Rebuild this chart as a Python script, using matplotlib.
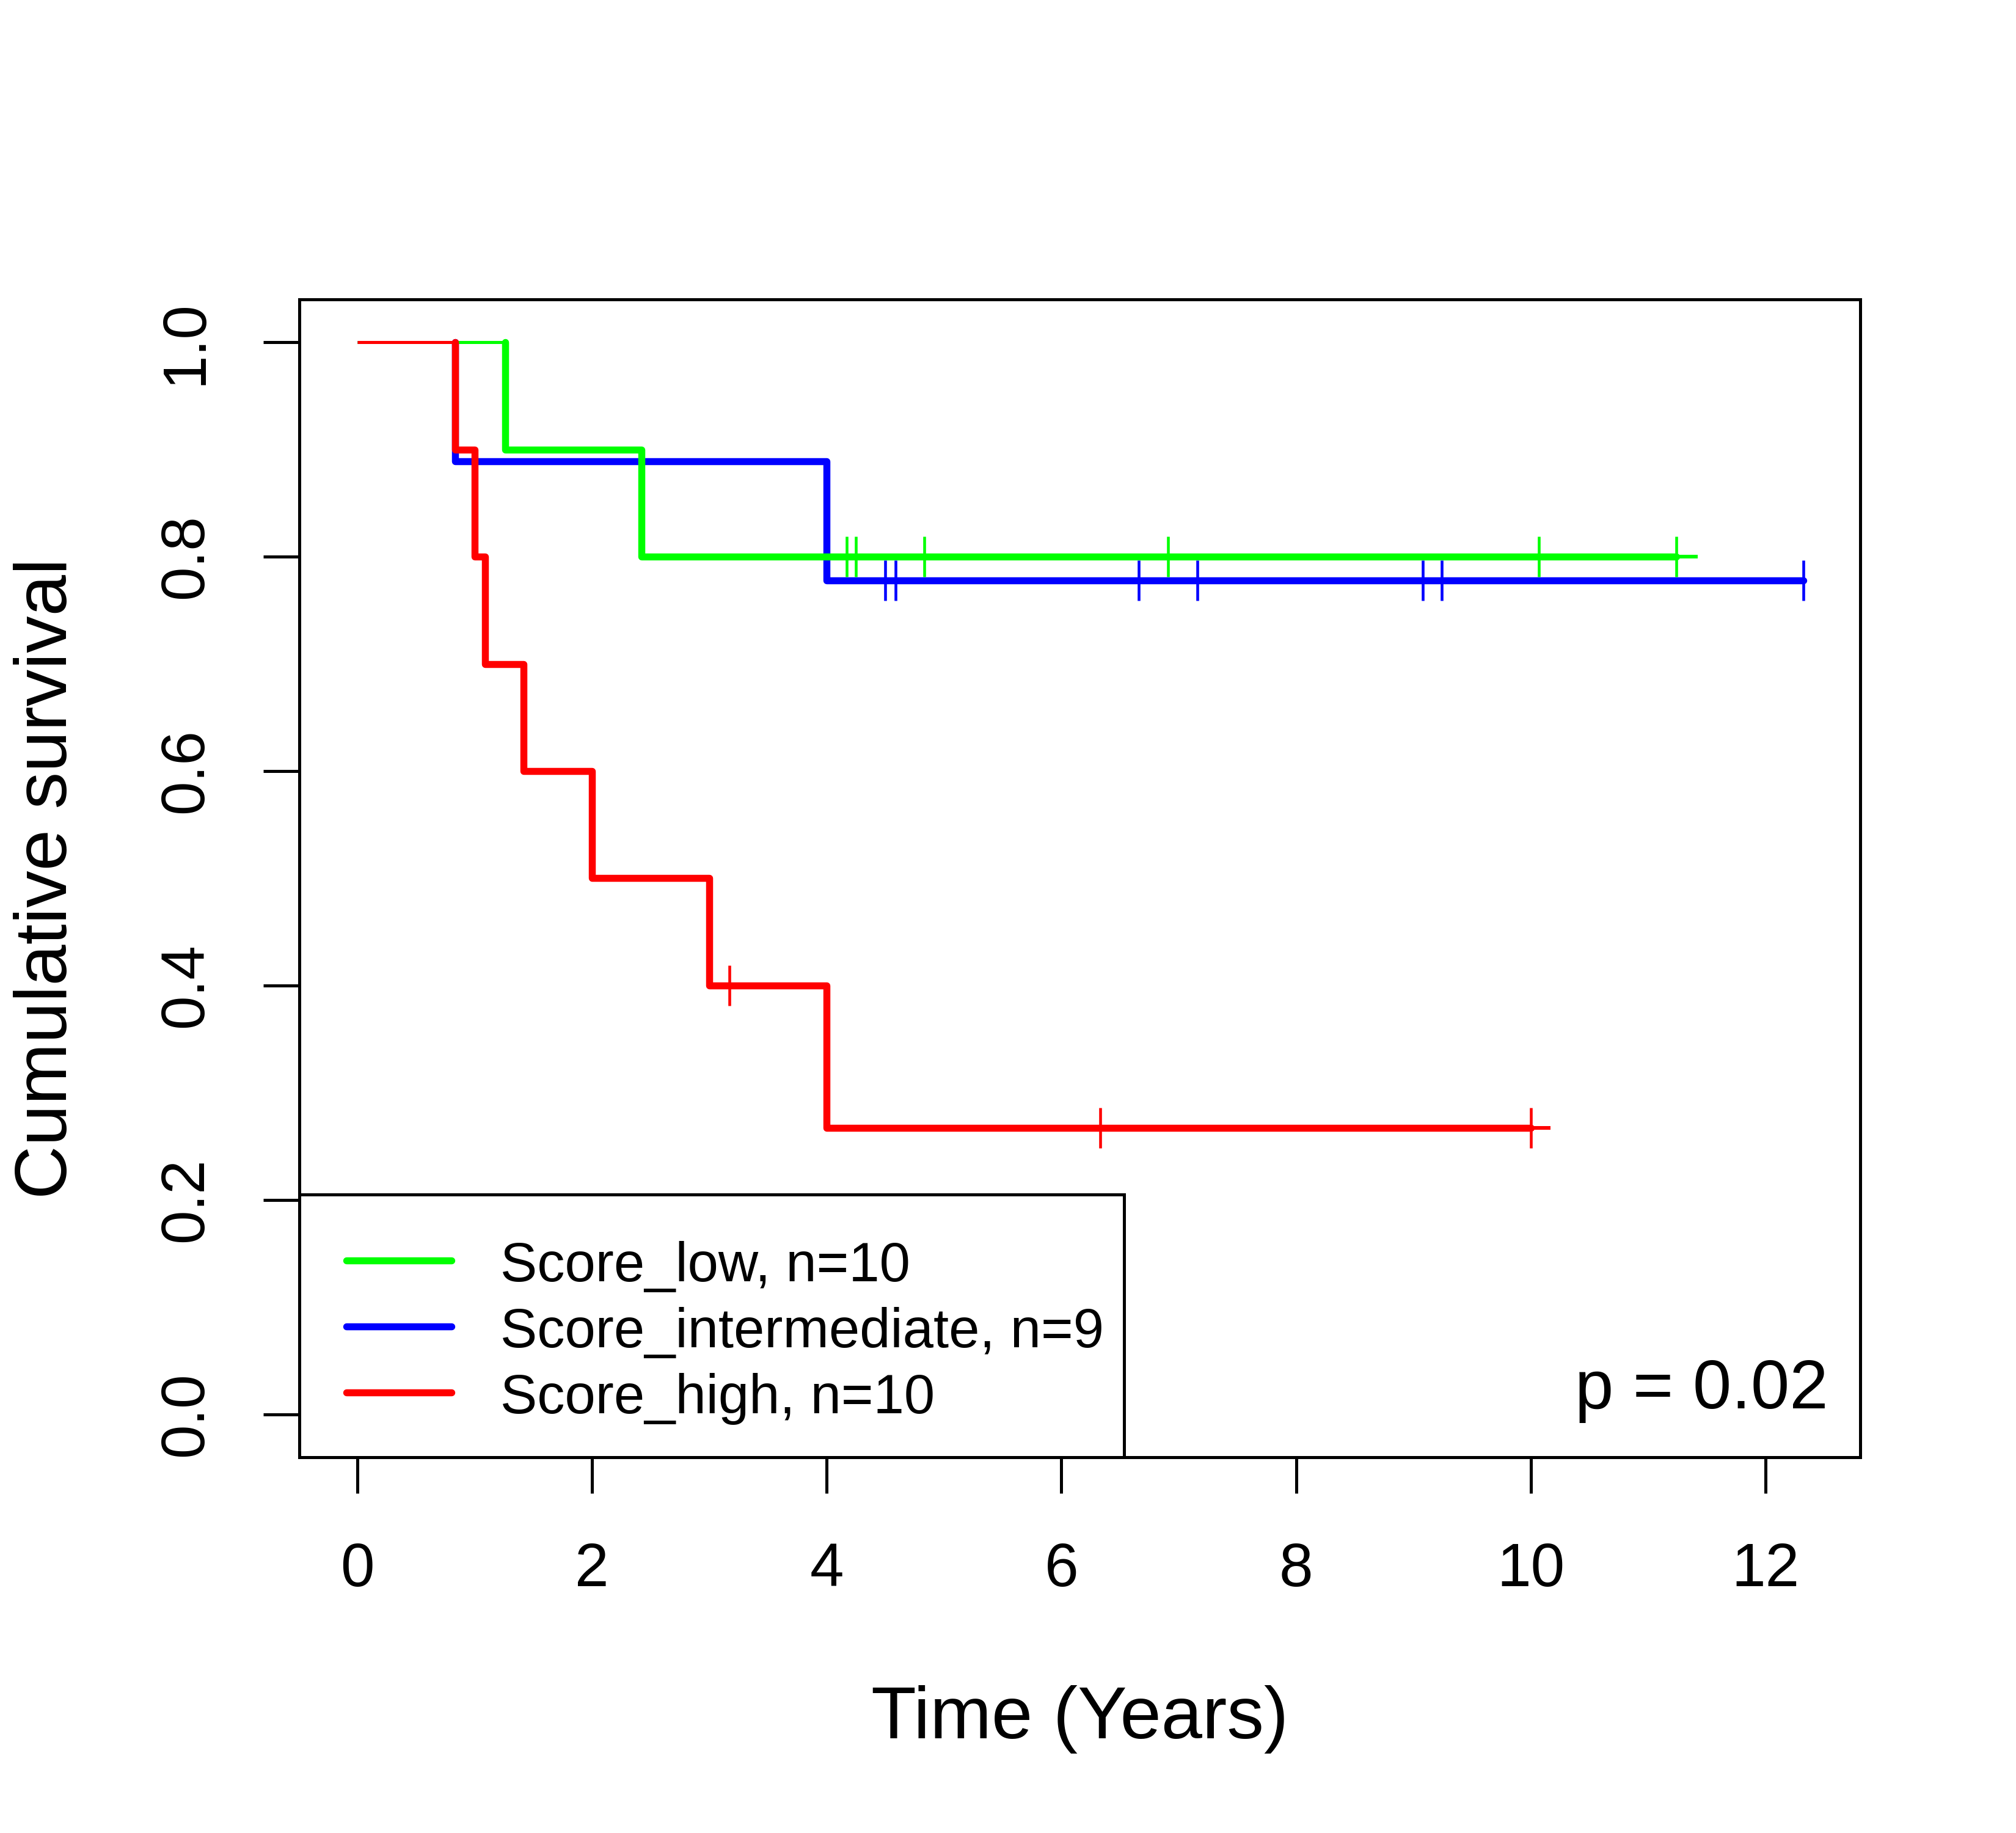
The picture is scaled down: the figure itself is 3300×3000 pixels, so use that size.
import matplotlib
matplotlib.use('Agg')
import matplotlib.pyplot as plt
import numpy as np
from matplotlib.patches import Rectangle
from matplotlib.lines import Line2D

plt.rcParams['font.family'] = ['Liberation Sans', 'DejaVu Sans']

# ---------------- data ----------------
groups = ['Score_low', 'Score_intermediate', 'Score_high']
group_n = [10, 9, 10]
colors = ['#00FF00', '#0000FF', '#FF0000']

low_event_times = [1.26, 2.42]
low_surv = [0.9, 0.8]
low_censor_times = [4.17, 4.25, 4.83, 6.91, 10.07, 11.24]
low_end = 11.42

mid_event_times = [0.835, 4.0]
mid_surv = [0.889, 0.778]
mid_censor_times = [4.50, 4.59, 6.66, 7.16, 9.08, 9.24, 12.32]
mid_end = 12.32

high_event_times = [0.835, 1.0, 1.09, 1.42, 2.0, 3.0, 4.0]
high_surv = [0.9, 0.8, 0.7, 0.6, 0.5, 0.4, 0.267]
high_censor_times = [3.17, 6.33, 10.0]
high_end = 10.17

x_ticks = [0, 2, 4, 6, 8, 10, 12]
y_ticks = [0.0, 0.2, 0.4, 0.6, 0.8, 1.0]
y_tick_labels = ['0.0', '0.2', '0.4', '0.6', '0.8', '1.0']
x_label = 'Time (Years)'
y_label = 'Cumulative survival'
p_label = 'p = 0.02'

# ---------------- figure ----------------
fig = plt.figure(figsize=(11, 10), dpi=300)
ax = fig.add_axes([0.1485, 0.205, 0.9227 - 0.1485, 0.8367 - 0.205])

THICK = 2.75
THIN = 1.2

def draw_curve(ev_t, surv, cens_t, t_end, color):
    ev_t = list(ev_t)
    surv = list(surv)
    last_c = max(cens_t)
    # thin initial segment at 1.0
    ax.plot([0, ev_t[0]], [1.0, 1.0], color=color, lw=THIN,
            solid_capstyle='butt', zorder=3)
    # thick step part
    xs = [ev_t[0]] + ev_t + [last_c]
    ys = [1.0] + surv + [surv[-1]]
    ax.step(xs, ys, where='post', color=color, lw=THICK,
            solid_capstyle='round', solid_joinstyle='round', zorder=3)
    # thin extension
    if t_end > last_c:
        ax.plot([last_c, t_end], [surv[-1], surv[-1]], color=color, lw=THIN * 1.2,
                solid_capstyle='butt', zorder=3)
    # censor marks
    lv = np.array([1.0] + surv)
    idx = np.searchsorted(np.array(ev_t), np.array(cens_t), side='right')
    ax.plot(cens_t, lv[idx], linestyle='none', marker='|', markersize=16,
            markeredgewidth=1.1, color=color, zorder=4)

draw_curve(mid_event_times, mid_surv, mid_censor_times, mid_end, colors[1])
draw_curve(low_event_times, low_surv, low_censor_times, low_end, colors[0])
draw_curve(high_event_times, high_surv, high_censor_times, high_end, colors[2])

ax.set_xlim(-0.4926, 12.806)
ax.set_ylim(-0.04, 1.04)
ax.set_xticks(x_ticks)
ax.set_xticklabels([str(t) for t in x_ticks])
ax.set_yticks(y_ticks)
ax.set_yticklabels(y_tick_labels)

for sp in ax.spines.values():
    sp.set_linewidth(1.2)
    sp.set_color('black')

ax.tick_params(axis='both', direction='out', length=14.2, width=1.2,
               labelsize=24, color='black')
ax.tick_params(axis='x', pad=19)
ax.tick_params(axis='y', pad=19, labelrotation=90)
for lbl in ax.get_yticklabels():
    lbl.set_va('center')

ax.set_xlabel(x_label, fontsize=29)
ax.xaxis.label.set_va('baseline')
ax.xaxis.set_label_coords(0.5, -0.2425)
ax.set_ylabel(y_label, fontsize=29)
ax.yaxis.label.set_rotation_mode('anchor')
ax.yaxis.label.set_va('baseline')
ax.yaxis.label.set_ha('center')
ax.yaxis.set_label_coords(-0.1491, 0.5)

# legend (bottom-left box)
ax.add_patch(Rectangle((0, 0), 0.5284, 0.2269, transform=ax.transAxes,
                       facecolor='white', edgecolor='black', lw=1.2,
                       zorder=5, clip_on=False))
leg_line_y = [0.170, 0.113, 0.056]
leg_text_y = [0.152, 0.095, 0.038]
for g, n, c, ly, ty in zip(groups, group_n, colors, leg_line_y, leg_text_y):
    ax.add_line(Line2D([0.030, 0.0975], [ly, ly], transform=ax.transAxes,
                       color=c, lw=THICK, solid_capstyle='round', zorder=6))
    ax.text(0.1288, ty, f'{g}, n={n}', transform=ax.transAxes, fontsize=21.7,
            ha='left', va='baseline', zorder=6)

ax.text(0.9796, 0.0422, p_label, transform=ax.transAxes, fontsize=27.3,
        ha='right', va='baseline', zorder=6)

fig.savefig('out.png', dpi=300, facecolor='white')
